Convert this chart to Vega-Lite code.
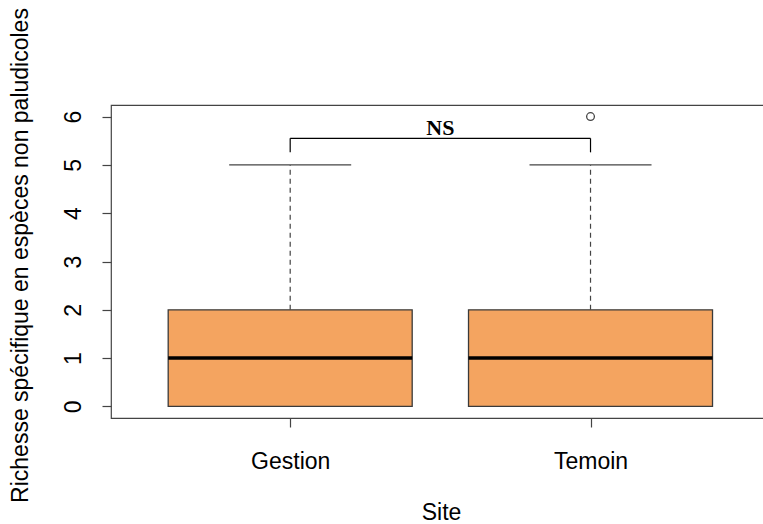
{
  "$schema": "https://vega.github.io/schema/vega-lite/v6.json",
  "width": 653,
  "height": 313,
  "autosize": {"type": "none"},
  "padding": {"left": 111, "top": 105, "right": 0, "bottom": 106},
  "background": "white",
  "config": {
    "view": {"stroke": "#444444", "strokeWidth": 1.2},
    "font": "Liberation Sans"
  },
  "datasets": {
    "stats": [
      {"site": "Gestion", "pos": 1, "lower": 0, "q1": 0, "median": 1, "q3": 2, "upper": 5},
      {"site": "Temoin", "pos": 2, "lower": 0, "q1": 0, "median": 1, "q3": 2, "upper": 5}
    ],
    "outliers": [
      {"site": "Temoin", "pos": 2, "value": 6}
    ],
    "bracket": [
      {"from": 1, "to": 2, "level": 5.55, "mid": 1.5, "labelLevel": 5.77, "label": "NS"}
    ],
    "bracketFeet": [
      {"pos": 1, "top": 5.55, "bottom": 5.26},
      {"pos": 2, "top": 5.55, "bottom": 5.26}
    ]
  },
  "layer": [
    {
      "data": {"name": "stats"},
      "mark": {"type": "rule", "stroke": "#444444", "strokeWidth": 1.2, "strokeDash": [5, 4]},
      "encoding": {
        "x": {
          "field": "pos", "type": "quantitative",
          "scale": {"domain": [0.42, 2.561], "nice": false, "zero": false},
          "axis": {
            "values": [1, 2],
            "labelExpr": "datum.value == 1 ? 'Gestion' : 'Temoin'",
            "grid": false, "domain": false,
            "tickSize": 9, "tickColor": "#444444", "tickWidth": 1.2,
            "labelFont": "Liberation Sans", "labelFontSize": 23, "labelColor": "black",
            "labelBaseline": "alphabetic", "labelPadding": 41,
            "title": "Site",
            "titleFont": "Liberation Sans", "titleFontSize": 23, "titleFontWeight": "normal", "titleColor": "black",
            "titleX": 330, "titleY": 101, "titleBaseline": "alphabetic", "titleAlign": "center"
          }
        },
        "y": {
          "field": "q3", "type": "quantitative",
          "scale": {"domain": [-0.24, 6.24], "nice": false, "zero": false},
          "axis": {
            "values": [0, 1, 2, 3, 4, 5, 6],
            "grid": false, "domain": false,
            "tickSize": 9, "tickColor": "#444444", "tickWidth": 1.2,
            "labelFont": "Liberation Sans", "labelFontSize": 23, "labelColor": "black",
            "labelAngle": 270, "labelAlign": "center", "labelBaseline": "alphabetic", "labelPadding": 22,
            "title": "Richesse spécifique en espèces non paludicoles",
            "titleFont": "Liberation Sans", "titleFontSize": 23, "titleFontWeight": "normal", "titleColor": "black",
            "titleAngle": 270, "titleX": -84, "titleY": 150, "titleBaseline": "alphabetic", "titleAlign": "center"
          }
        },
        "y2": {"field": "upper"}
      }
    },
    {
      "data": {"name": "stats"},
      "mark": {"type": "rule", "stroke": "#444444", "strokeWidth": 1.2, "strokeDash": [5, 4]},
      "encoding": {
        "x": {"field": "pos", "type": "quantitative"},
        "y": {"field": "lower", "type": "quantitative"},
        "y2": {"field": "q1"}
      }
    },
    {
      "data": {"name": "stats"},
      "mark": {"type": "tick", "orient": "horizontal", "size": 122, "thickness": 1.2, "color": "#444444", "opacity": 1},
      "encoding": {
        "x": {"field": "pos", "type": "quantitative"},
        "y": {"field": "upper", "type": "quantitative"}
      }
    },
    {
      "data": {"name": "stats"},
      "mark": {"type": "tick", "orient": "horizontal", "size": 122, "thickness": 1.2, "color": "#444444", "opacity": 1},
      "encoding": {
        "x": {"field": "pos", "type": "quantitative"},
        "y": {"field": "lower", "type": "quantitative"}
      }
    },
    {
      "data": {"name": "stats"},
      "mark": {"type": "bar", "width": 244, "fill": "#F4A460", "stroke": "#3a3a3a", "strokeWidth": 1.3},
      "encoding": {
        "x": {"field": "pos", "type": "quantitative"},
        "y": {"field": "q1", "type": "quantitative"},
        "y2": {"field": "q3"}
      }
    },
    {
      "data": {"name": "stats"},
      "mark": {"type": "tick", "orient": "horizontal", "size": 244, "thickness": 3.5, "color": "black", "opacity": 1},
      "encoding": {
        "x": {"field": "pos", "type": "quantitative"},
        "y": {"field": "median", "type": "quantitative"}
      }
    },
    {
      "data": {"name": "outliers"},
      "mark": {"type": "point", "shape": "circle", "filled": false, "size": 60, "stroke": "#444444", "strokeWidth": 1.3, "opacity": 1},
      "encoding": {
        "x": {"field": "pos", "type": "quantitative"},
        "y": {"field": "value", "type": "quantitative"}
      }
    },
    {
      "data": {"name": "bracket"},
      "mark": {"type": "rule", "stroke": "black", "strokeWidth": 1.2},
      "encoding": {
        "x": {"field": "from", "type": "quantitative"},
        "x2": {"field": "to"},
        "y": {"field": "level", "type": "quantitative"}
      }
    },
    {
      "data": {"name": "bracketFeet"},
      "mark": {"type": "rule", "stroke": "black", "strokeWidth": 1.2},
      "encoding": {
        "x": {"field": "pos", "type": "quantitative"},
        "y": {"field": "top", "type": "quantitative"},
        "y2": {"field": "bottom"}
      }
    },
    {
      "data": {"name": "bracket"},
      "mark": {"type": "text", "font": "Liberation Serif", "fontWeight": "bold", "fontSize": 22, "color": "black", "baseline": "middle", "align": "center"},
      "encoding": {
        "x": {"field": "mid", "type": "quantitative"},
        "y": {"field": "labelLevel", "type": "quantitative"},
        "text": {"field": "label"}
      }
    }
  ]
}
